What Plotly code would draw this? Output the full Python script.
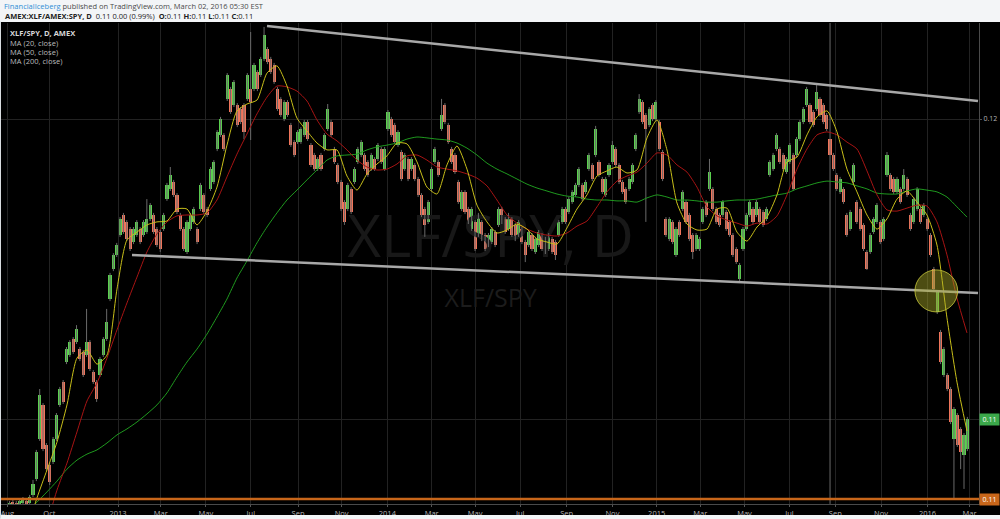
import pandas as pd
import plotly.graph_objects as go

# ---------------- data ----------------
candle_open = [
    0.10710, 0.10723, 0.10720, 0.10713, 0.10720, 0.10727, 0.10720,
    0.10747, 0.10800, 0.10933, 0.11047, 0.10913, 0.10847, 0.10857, 0.10933, 0.11047, 0.11123,
    0.11190, 0.11213, 0.11267, 0.11257, 0.11233, 0.11223, 0.11213, 0.11257, 0.11157, 0.11123,
    0.11147, 0.11213, 0.11267, 0.11400, 0.11500, 0.11547, 0.11613, 0.11680, 0.11657, 0.11633,
    0.11590, 0.11613, 0.11633, 0.11613, 0.11623, 0.11667, 0.11680, 0.11633, 0.11623, 0.11633,
    0.11733, 0.11767, 0.11790, 0.11747, 0.11680, 0.11633, 0.11557, 0.11633, 0.11657, 0.11633,
    0.11700, 0.11747, 0.11700, 0.11767, 0.11790, 0.11900, 0.11947, 0.11947, 0.12067, 0.12100,
    0.12047, 0.12047, 0.12033, 0.12047, 0.12067, 0.12100, 0.12100, 0.12157, 0.12147, 0.12200,
    0.12233, 0.12200, 0.12180, 0.12100, 0.12067, 0.12000, 0.12057, 0.11980, 0.11923, 0.11923,
    0.11923, 0.11947, 0.11990, 0.11913, 0.11880, 0.11833, 0.11880, 0.11900, 0.11967, 0.11990,
    0.11900, 0.11847, 0.11790, 0.11723, 0.11700, 0.11767, 0.11790, 0.11857, 0.11880, 0.11880,
    0.11857, 0.11833, 0.11867, 0.11867, 0.11900, 0.11833, 0.11967, 0.12000,
    0.11980, 0.11913, 0.11890, 0.11833, 0.11867, 0.11833, 0.11847, 0.11800, 0.11747, 0.11700,
    0.11657, 0.11767, 0.11857, 0.11857, 0.11967, 0.12047, 0.11980, 0.11900, 0.11880, 0.11790,
    0.11700, 0.11757, 0.11700, 0.11633, 0.11657, 0.11613, 0.11657, 0.11613, 0.11580, 0.11590,
    0.11623, 0.11647, 0.11700, 0.11667, 0.11633, 0.11667, 0.11647, 0.11613, 0.11633, 0.11590,
    0.11580, 0.11613, 0.11557, 0.11580, 0.11613, 0.11600, 0.11567, 0.11600, 0.11590, 0.11613,
    0.11657, 0.11700, 0.11690, 0.11723, 0.11747, 0.11780,
    0.11780, 0.11757, 0.11833, 0.11847, 0.11880, 0.11857, 0.11800, 0.11747, 0.11813, 0.11857,
    0.11900, 0.11847, 0.11790, 0.11767, 0.11767, 0.11790, 0.11900, 0.12023, 0.12057, 0.12013,
    0.11980, 0.12047, 0.12000, 0.11990, 0.11890, 0.11667, 0.11600, 0.11657, 0.11547, 0.11657,
    0.11700, 0.11723, 0.11680, 0.11613, 0.11567, 0.11567, 0.11657, 0.11723, 0.11767, 0.11767,
    0.11700, 0.11680, 0.11680, 0.11690, 0.11657, 0.11613, 0.11567, 0.11467, 0.11567, 0.11633,
    0.11680, 0.11700, 0.11680, 0.11700, 0.11690, 0.11667, 0.11813, 0.11833, 0.11900,
    0.11900, 0.11880, 0.11823, 0.11857, 0.11880, 0.11880, 0.11933, 0.11990, 0.12047, 0.12047,
    0.12023, 0.12033, 0.12067, 0.12047, 0.12013, 0.11933, 0.11880, 0.11813, 0.11757, 0.11767,
    0.11680, 0.11633, 0.11790, 0.11723, 0.11700, 0.11647, 0.11557, 0.11557, 0.11623, 0.11657,
    0.11657, 0.11600, 0.11813, 0.11813, 0.11800, 0.11757, 0.11767, 0.11767, 0.11800, 0.11680,
    0.11657, 0.11700, 0.11700, 0.11680, 0.11667, 0.11613, 0.11500, 0.11357, 0.11290, 0.11147,
    0.11147, 0.11100, 0.10933, 0.11013, 0.10967, 0.10880, 0.10900,
]
candle_high = [
    0.10727, 0.10730, 0.10727, 0.10733, 0.10740, 0.10733, 0.10747,
    0.10797, 0.10897, 0.11100, 0.11053, 0.10920, 0.10853, 0.10940, 0.11020, 0.11107, 0.11130,
    0.11240, 0.11263, 0.11273, 0.11313, 0.11240, 0.11230, 0.11367, 0.11263, 0.11163, 0.11130,
    0.11207, 0.11273, 0.11367, 0.11487, 0.11553, 0.11587, 0.11673, 0.11687, 0.11663, 0.11640,
    0.11640, 0.11663, 0.11640, 0.11663, 0.11733, 0.11720, 0.11687, 0.11640, 0.11630, 0.11687,
    0.11787, 0.11840, 0.11797, 0.11753, 0.11687, 0.11640, 0.11663, 0.11687, 0.11707, 0.11640,
    0.11787, 0.11753, 0.11707, 0.11840, 0.11863, 0.11963, 0.12007, 0.11953, 0.12153, 0.12107,
    0.12130, 0.12053, 0.12040, 0.12053, 0.12153, 0.12290, 0.12187, 0.12163, 0.12207, 0.12307,
    0.12240, 0.12207, 0.12187, 0.12107, 0.12073, 0.12063, 0.12063, 0.11987, 0.11930, 0.11963,
    0.11973, 0.11997, 0.11997, 0.11920, 0.11887, 0.11873, 0.11887, 0.11953, 0.12050, 0.11997,
    0.11907, 0.11853, 0.11797, 0.11730, 0.11787, 0.11773, 0.11840, 0.11907, 0.11930, 0.11887,
    0.11863, 0.11887, 0.11873, 0.11920, 0.11907, 0.11907, 0.12030, 0.12007,
    0.11987, 0.11963, 0.11897, 0.11887, 0.11873, 0.11873, 0.11853, 0.11807, 0.11753, 0.11707,
    0.11730, 0.11840, 0.11907, 0.11863, 0.12067, 0.12053, 0.11987, 0.11907, 0.11887, 0.11797,
    0.11763, 0.11763, 0.11707, 0.11707, 0.11663, 0.11687, 0.11663, 0.11620, 0.11620, 0.11640,
    0.11630, 0.11707, 0.11707, 0.11673, 0.11687, 0.11673, 0.11653, 0.11663, 0.11640, 0.11597,
    0.11630, 0.11620, 0.11607, 0.11630, 0.11620, 0.11607, 0.11620, 0.11607, 0.11597, 0.11663,
    0.11707, 0.11707, 0.11740, 0.11763, 0.11787, 0.11840,
    0.11787, 0.11797, 0.11887, 0.11853, 0.11977, 0.11863, 0.11807, 0.11807, 0.11853, 0.11927,
    0.11907, 0.11853, 0.11797, 0.11773, 0.11807, 0.11853, 0.11953, 0.12083, 0.12063, 0.12020,
    0.12040, 0.12053, 0.12063, 0.11997, 0.11897, 0.11673, 0.11673, 0.11663, 0.11640, 0.11663,
    0.11763, 0.11730, 0.11687, 0.11620, 0.11620, 0.11607, 0.11707, 0.11730, 0.11867, 0.11773,
    0.11707, 0.11687, 0.11730, 0.11697, 0.11663, 0.11620, 0.11573, 0.11520, 0.11640, 0.11687,
    0.11730, 0.11707, 0.11730, 0.11707, 0.11697, 0.11707, 0.11863, 0.11887, 0.11953,
    0.11907, 0.11887, 0.11873, 0.11920, 0.11887, 0.11940, 0.11997, 0.12040, 0.12107, 0.12053,
    0.12030, 0.12113, 0.12073, 0.12053, 0.12020, 0.12323, 0.11887, 0.11820, 0.11807, 0.11773,
    0.11687, 0.11697, 0.11853, 0.11730, 0.11707, 0.11653, 0.11563, 0.11620, 0.11673, 0.11720,
    0.11663, 0.11673, 0.11890, 0.11820, 0.11807, 0.11807, 0.11773, 0.11833, 0.11807, 0.11687,
    0.11740, 0.11773, 0.11707, 0.11720, 0.11673, 0.11620, 0.11507, 0.11430, 0.11297, 0.11240,
    0.11153, 0.11107, 0.11040, 0.11020, 0.10973, 0.10953, 0.11007,
]
candle_low = [
    0.10703, 0.10707, 0.10700, 0.10707, 0.10713, 0.10707, 0.10713,
    0.10740, 0.10793, 0.10927, 0.10893, 0.10827, 0.10780, 0.10850, 0.10927, 0.11040, 0.11050,
    0.11183, 0.11207, 0.11217, 0.11250, 0.11193, 0.11140, 0.11207, 0.11160, 0.11117, 0.11057,
    0.11140, 0.11207, 0.11260, 0.11393, 0.11493, 0.11540, 0.11607, 0.11617, 0.11593, 0.11560,
    0.11583, 0.11607, 0.11583, 0.11607, 0.11617, 0.11660, 0.11617, 0.11573, 0.11557, 0.11627,
    0.11727, 0.11760, 0.11740, 0.11683, 0.11627, 0.11560, 0.11550, 0.11627, 0.11650, 0.11583,
    0.11693, 0.11683, 0.11673, 0.11760, 0.11783, 0.11893, 0.11940, 0.11893, 0.12060, 0.12017,
    0.12040, 0.11973, 0.11983, 0.11933, 0.12060, 0.11930, 0.12093, 0.12093, 0.12140, 0.12193,
    0.12183, 0.12150, 0.12117, 0.12027, 0.12007, 0.11993, 0.12007, 0.11907, 0.11873, 0.11917,
    0.11917, 0.11940, 0.11927, 0.11840, 0.11827, 0.11827, 0.11827, 0.11893, 0.11960, 0.11940,
    0.11850, 0.11783, 0.11693, 0.11647, 0.11693, 0.11683, 0.11783, 0.11850, 0.11873, 0.11827,
    0.11807, 0.11827, 0.11827, 0.11860, 0.11850, 0.11827, 0.11960, 0.11940,
    0.11917, 0.11907, 0.11793, 0.11827, 0.11793, 0.11827, 0.11793, 0.11740, 0.11673, 0.11607,
    0.11650, 0.11760, 0.11850, 0.11807, 0.11960, 0.11983, 0.11917, 0.11850, 0.11817, 0.11717,
    0.11693, 0.11683, 0.11650, 0.11627, 0.11560, 0.11607, 0.11593, 0.11560, 0.11573, 0.11583,
    0.11573, 0.11640, 0.11650, 0.11617, 0.11627, 0.11607, 0.11593, 0.11607, 0.11583, 0.11523,
    0.11573, 0.11560, 0.11550, 0.11573, 0.11560, 0.11550, 0.11560, 0.11550, 0.11530, 0.11607,
    0.11650, 0.11650, 0.11683, 0.11717, 0.11740, 0.11773,
    0.11727, 0.11750, 0.11827, 0.11793, 0.11873, 0.11807, 0.11750, 0.11740, 0.11807, 0.11850,
    0.11840, 0.11783, 0.11750, 0.11717, 0.11760, 0.11783, 0.11893, 0.12017, 0.11983, 0.11657,
    0.11973, 0.11993, 0.11993, 0.11893, 0.11793, 0.11607, 0.11593, 0.11583, 0.11540, 0.11607,
    0.11693, 0.11650, 0.11593, 0.11533, 0.11560, 0.11560, 0.11650, 0.11673, 0.11760, 0.11693,
    0.11650, 0.11640, 0.11673, 0.11627, 0.11607, 0.11540, 0.11517, 0.11460, 0.11560, 0.11627,
    0.11673, 0.11650, 0.11673, 0.11650, 0.11640, 0.11660, 0.11807, 0.11827, 0.11893,
    0.11850, 0.11827, 0.11817, 0.11850, 0.11760, 0.11873, 0.11927, 0.11983, 0.12040, 0.11983,
    0.11973, 0.12027, 0.12007, 0.11983, 0.11960, 0.10717, 0.11827, 0.11760, 0.11750, 0.11717,
    0.11607, 0.11627, 0.11783, 0.11650, 0.11627, 0.11560, 0.11497, 0.11550, 0.11617, 0.11650,
    0.11583, 0.11593, 0.11807, 0.11760, 0.11750, 0.11750, 0.11717, 0.11760, 0.11740, 0.11627,
    0.11650, 0.11693, 0.11650, 0.11673, 0.11627, 0.11540, 0.11427, 0.11350, 0.11183, 0.11140,
    0.11093, 0.10983, 0.10733, 0.10907, 0.10833, 0.10767, 0.10893,
]
candle_close = [
    0.10720, 0.10713, 0.10707, 0.10727, 0.10730, 0.10713, 0.10740,
    0.10783, 0.10890, 0.11080, 0.10900, 0.10833, 0.10790, 0.10933, 0.11013, 0.11100, 0.11057,
    0.11233, 0.11257, 0.11223, 0.11300, 0.11200, 0.11147, 0.11257, 0.11167, 0.11123, 0.11067,
    0.11200, 0.11267, 0.11323, 0.11480, 0.11547, 0.11580, 0.11667, 0.11623, 0.11600, 0.11567,
    0.11633, 0.11657, 0.11590, 0.11657, 0.11667, 0.11713, 0.11623, 0.11580, 0.11567, 0.11680,
    0.11780, 0.11813, 0.11747, 0.11690, 0.11633, 0.11567, 0.11657, 0.11680, 0.11700, 0.11590,
    0.11780, 0.11690, 0.11680, 0.11833, 0.11857, 0.11957, 0.12000, 0.11900, 0.12147, 0.12023,
    0.12123, 0.11980, 0.11990, 0.11957, 0.12147, 0.12057, 0.12180, 0.12100, 0.12200, 0.12280,
    0.12190, 0.12157, 0.12123, 0.12033, 0.12013, 0.12057, 0.12013, 0.11913, 0.11880, 0.11957,
    0.11967, 0.11990, 0.11933, 0.11847, 0.11833, 0.11867, 0.11833, 0.11947, 0.12033, 0.11947,
    0.11857, 0.11790, 0.11700, 0.11657, 0.11780, 0.11690, 0.11833, 0.11900, 0.11923, 0.11833,
    0.11813, 0.11880, 0.11833, 0.11913, 0.11857, 0.11900, 0.12023, 0.11947,
    0.11923, 0.11957, 0.11800, 0.11880, 0.11800, 0.11867, 0.11800, 0.11747, 0.11680, 0.11647,
    0.11723, 0.11833, 0.11900, 0.11813, 0.12013, 0.11990, 0.11923, 0.11857, 0.11823, 0.11723,
    0.11757, 0.11690, 0.11657, 0.11700, 0.11567, 0.11680, 0.11600, 0.11567, 0.11613, 0.11633,
    0.11580, 0.11700, 0.11657, 0.11623, 0.11680, 0.11613, 0.11600, 0.11657, 0.11590, 0.11547,
    0.11623, 0.11567, 0.11600, 0.11623, 0.11567, 0.11557, 0.11613, 0.11557, 0.11547, 0.11657,
    0.11700, 0.11657, 0.11733, 0.11757, 0.11780, 0.11833,
    0.11733, 0.11790, 0.11880, 0.11800, 0.11967, 0.11813, 0.11757, 0.11800, 0.11847, 0.11913,
    0.11847, 0.11790, 0.11757, 0.11723, 0.11800, 0.11847, 0.11947, 0.12067, 0.11990, 0.11967,
    0.12033, 0.12000, 0.12057, 0.11900, 0.11800, 0.11613, 0.11667, 0.11590, 0.11633, 0.11613,
    0.11757, 0.11657, 0.11600, 0.11557, 0.11613, 0.11600, 0.11700, 0.11680, 0.11823, 0.11700,
    0.11657, 0.11647, 0.11723, 0.11633, 0.11613, 0.11547, 0.11523, 0.11513, 0.11633, 0.11680,
    0.11723, 0.11657, 0.11723, 0.11657, 0.11647, 0.11700, 0.11857, 0.11880, 0.11947,
    0.11857, 0.11833, 0.11867, 0.11913, 0.11767, 0.11933, 0.11990, 0.12033, 0.12100, 0.11990,
    0.11980, 0.12090, 0.12013, 0.11990, 0.11967, 0.11880, 0.11833, 0.11767, 0.11800, 0.11723,
    0.11613, 0.11690, 0.11847, 0.11657, 0.11633, 0.11567, 0.11500, 0.11613, 0.11667, 0.11713,
    0.11590, 0.11667, 0.11880, 0.11767, 0.11757, 0.11800, 0.11723, 0.11813, 0.11747, 0.11633,
    0.11733, 0.11767, 0.11657, 0.11713, 0.11633, 0.11547, 0.11433, 0.11423, 0.11190, 0.11233,
    0.11100, 0.10990, 0.11033, 0.10913, 0.10890, 0.10947, 0.11000,
]
candle_dates = pd.date_range("2012-08-08", "2016-02-27", periods=len(candle_close))

# moving averages as drawn (sampled every ~13.5 days)
ma20 = [
    None, None, 0.10630,
    0.10737, 0.10830, 0.10923, 0.11047, 0.11203, 0.11230, 0.11183, 0.11213, 0.11433, 0.11597,
    0.11623, 0.11647, 0.11657, 0.11660, 0.11700, 0.11700, 0.11647, 0.11693, 0.11773, 0.11913,
    0.12027, 0.12050, 0.12063, 0.12153, 0.12177, 0.12110, 0.12003, 0.11960, 0.11920, 0.11897,
    0.11897, 0.11810, 0.11763, 0.11817, 0.11850, 0.11877, 0.11920, 0.11917, 0.11857, 0.11773,
    0.11750, 0.11847, 0.11910, 0.11833, 0.11713, 0.11657, 0.11620, 0.11630, 0.11650, 0.11633,
    0.11600, 0.11590, 0.11583, 0.11637, 0.11700, 0.11747, 0.11810, 0.11827, 0.11840, 0.11820,
    0.11830, 0.11937, 0.11997, 0.11897, 0.11720, 0.11650, 0.11630, 0.11633, 0.11700, 0.11703,
    0.11623, 0.11593, 0.11640, 0.11673, 0.11747, 0.11857, 0.11873, 0.11947, 0.12007, 0.12027,
    0.11957, 0.11833, 0.11757, 0.11680, 0.11633, 0.11667, 0.11733, 0.11760, 0.11723, 0.11680,
    0.11580, 0.11337, 0.11123, 0.10960,
]
ma50 = [
    None, None, None, None, 0.10650,
    0.10763, 0.10853, 0.10957, 0.11060, 0.11120, 0.11203, 0.11297, 0.11387, 0.11473, 0.11557,
    0.11617, 0.11657, 0.11677, 0.11680, 0.11680, 0.11687, 0.11730, 0.11807, 0.11883, 0.11950,
    0.12017, 0.12073, 0.12110, 0.12107, 0.12093, 0.12060, 0.11997, 0.11950, 0.11927, 0.11897,
    0.11863, 0.11840, 0.11830, 0.11833, 0.11850, 0.11877, 0.11880, 0.11863, 0.11840, 0.11833,
    0.11827, 0.11817, 0.11803, 0.11777, 0.11730, 0.11680, 0.11653, 0.11633, 0.11620, 0.11613,
    0.11610, 0.11620, 0.11643, 0.11660, 0.11707, 0.11757, 0.11793, 0.11810, 0.11823, 0.11853,
    0.11887, 0.11880, 0.11847, 0.11823, 0.11773, 0.11707, 0.11677, 0.11663, 0.11653, 0.11643,
    0.11653, 0.11650, 0.11677, 0.11747, 0.11833, 0.11900, 0.11947, 0.11957, 0.11947, 0.11923,
    0.11900, 0.11827, 0.11747, 0.11697, 0.11693, 0.11703, 0.11713, 0.11710, 0.11657, 0.11547,
    0.11403, 0.11287,
]
ma200 = [
    None, None, 0.10690,
    0.10723, 0.10757, 0.10793, 0.10833, 0.10863, 0.10883, 0.10897, 0.10920, 0.10947, 0.10967,
    0.10990, 0.11017, 0.11047, 0.11087, 0.11140, 0.11190, 0.11233, 0.11283, 0.11340, 0.11400,
    0.11470, 0.11527, 0.11587, 0.11640, 0.11687, 0.11730, 0.11763, 0.11797, 0.11830, 0.11863,
    0.11877, 0.11880, 0.11883, 0.11897, 0.11907, 0.11913, 0.11920, 0.11933, 0.11940, 0.11937,
    0.11933, 0.11930, 0.11920, 0.11903, 0.11880, 0.11853, 0.11833, 0.11817, 0.11800, 0.11783,
    0.11770, 0.11760, 0.11750, 0.11743, 0.11740, 0.11733, 0.11730, 0.11730, 0.11727, 0.11727,
    0.11723, 0.11737, 0.11747, 0.11740, 0.11730, 0.11730, 0.11727, 0.11723, 0.11723, 0.11727,
    0.11730, 0.11730, 0.11733, 0.11740, 0.11747, 0.11753, 0.11767, 0.11777, 0.11787, 0.11793,
    0.11790, 0.11787, 0.11777, 0.11767, 0.11753, 0.11750, 0.11750, 0.11760, 0.11767, 0.11763,
    0.11757, 0.11740, 0.11707, 0.11673,
]
ma_dates = pd.date_range("2012-08-04 12:00", "2016-02-26 12:00", periods=len(ma20))

tick_dates = ["2012-08-05", "2012-10-01", "2013-01-02", "2013-03-01", "2013-05-01", "2013-07-01",
              "2013-09-03", "2013-11-01", "2014-01-02", "2014-03-03", "2014-05-01", "2014-07-01",
              "2014-09-02", "2014-11-03", "2015-01-02", "2015-03-02", "2015-05-01", "2015-07-01",
              "2015-09-01", "2015-11-02", "2016-01-04", "2016-03-01"]
tick_labels = ["Aug", "Oct", "2013", "Mar", "May", "Jul", "Sep", "Nov", "2014", "Mar", "May", "Jul",
               "Sep", "Nov", "2015", "Mar", "May", "Jul", "Sep", "Nov", "2016", "Mar"]

upper_trend_dates = ["2013-07-22 22:00", "2016-03-12 10:00"]
upper_trend_vals = [0.12310, 0.12060]
lower_trend_dates = ["2013-01-20 22:00", "2016-03-12 10:00"]
lower_trend_vals = [0.11547, 0.11420]
highlight_dates = ["2015-12-18", "2016-02-13 21:00"]
highlight_vals = [0.11357, 0.11497]
hline_level = 0.10733

watermark_texts = ["XLF/SPY, D", "XLF/SPY"]
watermark_dates = ["2014-05-22", "2014-05-22"]
watermark_vals = [0.11590, 0.11393]

# ---------------- figure ----------------
UP = "#5ad04e"
DOWN = "#f0755b"
DAY_MS = 86400000

fig = go.Figure()

# background watermark (drawn first so everything sits on top of it)
fig.add_trace(go.Scatter(x=watermark_dates, y=watermark_vals, mode="text", text=watermark_texts,
                         textposition="middle center",
                         textfont=dict(family="Open Sans", size=[58, 25], color=["#181818", "#1c1c1c"]),
                         hoverinfo="skip", showlegend=False))

# wicks
wx, wy = [], []
for d, lo, hi in zip(candle_dates, candle_low, candle_high):
    wx += [d, d, None]
    wy += [lo, hi, None]
fig.add_trace(go.Scatter(x=wx, y=wy, mode="lines", line=dict(color="#6a6a6a", width=1),
                         hoverinfo="skip", showlegend=False))

# bodies
body_base = [min(o, c) for o, c in zip(candle_open, candle_close)]
body_len = [max(abs(c - o), 0.000012) for o, c in zip(candle_open, candle_close)]
body_col = [UP if c >= o else DOWN for o, c in zip(candle_open, candle_close)]
fig.add_trace(go.Bar(x=candle_dates, y=body_len, base=body_base, width=4.2 * DAY_MS,
                     marker=dict(color=body_col, line=dict(width=0)),
                     hoverinfo="skip", showlegend=False))

for vals, col in [(ma200, "#1f9a1f"), (ma50, "#a81414"), (ma20, "#c8bf1a")]:
    fig.add_trace(go.Scatter(x=ma_dates, y=vals, mode="lines",
                             line=dict(color=col, width=1, shape="spline", smoothing=0.6),
                             hoverinfo="skip", showlegend=False, connectgaps=False))

shapes = [
    dict(type="line", xref="x", yref="y", x0=upper_trend_dates[0], x1=upper_trend_dates[1],
         y0=upper_trend_vals[0], y1=upper_trend_vals[1], line=dict(color="#a8a8a8", width=2.5)),
    dict(type="line", xref="x", yref="y", x0=lower_trend_dates[0], x1=lower_trend_dates[1],
         y0=lower_trend_vals[0], y1=lower_trend_vals[1], line=dict(color="#a8a8a8", width=2.5)),
    dict(type="circle", xref="x", yref="y", x0=highlight_dates[0], x1=highlight_dates[1],
         y0=highlight_vals[0], y1=highlight_vals[1], fillcolor="rgba(170,170,40,0.45)",
         line=dict(color="rgba(200,200,60,0.8)", width=1)),
    dict(type="line", xref="paper", yref="y", x0=0, x1=1, y0=hline_level, y1=hline_level,
         line=dict(color="#c8661a", width=2.5)),
    # page header / footer / left border
    dict(type="rect", xref="paper", yref="paper", x0=-0.01, x1=1.03, y0=1.0021, y1=1.08,
         fillcolor="#f3f5f7", line=dict(width=0), layer="below"),
    dict(type="rect", xref="paper", yref="paper", x0=-0.01, x1=1.03, y0=-0.0229, y1=-0.05,
         fillcolor="#f3f5f7", line=dict(width=0), layer="above"),
    dict(type="rect", xref="paper", yref="paper", x0=-0.002, x1=0.0, y0=-0.03, y1=1.003,
         fillcolor="#d8dcdf", line=dict(width=0)),
]

def px_to_paper_y(py):
    return (504 - py) / 481.0

annotations = [
    dict(xref="paper", yref="paper", x=0.001, y=px_to_paper_y(6), xanchor="left", yanchor="middle",
         showarrow=False,
         text='<span style="color:#2f8fd6">FinancialIceberg</span> published on TradingView.com, March 02, 2016 05:30 EST',
         font=dict(family="Open Sans", size=7.5, color="#4a4a4a")),
    dict(xref="paper", yref="paper", x=0.002, y=px_to_paper_y(16), xanchor="left", yanchor="middle",
         showarrow=False,
         text="<b>AMEX:XLF/AMEX:SPY, D</b>  0.11 0.00 (0.99%)  <b>O:</b>0.11 <b>H:</b>0.11 <b>L:</b>0.11 <b>C:</b>0.11",
         font=dict(family="Open Sans", size=7.5, color="#222222")),
    dict(xref="paper", yref="paper", x=0.007, y=px_to_paper_y(33), xanchor="left", yanchor="middle",
         showarrow=False, text="<b>XLF/SPY, D, AMEX</b>",
         font=dict(family="Open Sans", size=7.5, color="#d8d8d8")),
    dict(xref="paper", yref="paper", x=0.007, y=px_to_paper_y(43), xanchor="left", yanchor="middle",
         showarrow=False, text="MA (20, close)", font=dict(family="Open Sans", size=7.5, color="#bbbbbb")),
    dict(xref="paper", yref="paper", x=0.007, y=px_to_paper_y(52), xanchor="left", yanchor="middle",
         showarrow=False, text="MA (50, close)", font=dict(family="Open Sans", size=7.5, color="#bbbbbb")),
    dict(xref="paper", yref="paper", x=0.007, y=px_to_paper_y(61), xanchor="left", yanchor="middle",
         showarrow=False, text="MA (200, close)", font=dict(family="Open Sans", size=7.5, color="#bbbbbb")),
    dict(xref="paper", yref="y", x=1.0, y=candle_close[-1], xanchor="left", yanchor="middle",
         showarrow=False, text="0.11", bgcolor="#3ba84a", width=19, height=11, borderpad=0,
         font=dict(family="Open Sans", size=7, color="#ffffff")),
    dict(xref="paper", yref="y", x=1.0, y=hline_level, xanchor="left", yanchor="middle",
         showarrow=False, text="0.11", bgcolor="#c8661a", width=19, height=11, borderpad=0,
         font=dict(family="Open Sans", size=7, color="#ffffff")),
]

fig.update_layout(
    width=1000, height=519,
    margin=dict(l=1, r=21, t=23, b=15, autoexpand=False),
    paper_bgcolor="#000000", plot_bgcolor="#000000",
    shapes=shapes, annotations=annotations,
    showlegend=False, hovermode=False, bargap=0, dragmode=False,
    modebar=dict(bgcolor="rgba(0,0,0,0)", color="rgba(0,0,0,0)", activecolor="rgba(0,0,0,0)"),
    xaxis=dict(type="date", range=["2012-07-27 10:00", "2016-03-13 19:00"], automargin=False,
               rangeslider=dict(visible=False), ticklabeloverflow="allow",
               tickvals=tick_dates, ticktext=tick_labels,
               tickfont=dict(family="Open Sans", size=7.5, color="#b5b5b5"),
               showgrid=True, gridcolor="#222222", gridwidth=1,
               ticks="outside", ticklen=2, tickcolor="#555555",
               showline=True, linecolor="#4a4a4a", zeroline=False, fixedrange=True),
    yaxis=dict(side="right", range=[0.107167, 0.1232], automargin=False,
               tickvals=[0.11, 0.12], ticktext=["0.11", "0.12"],
               tickfont=dict(family="Open Sans", size=7, color="#b5b5b5"),
               showgrid=True, gridcolor="#222222", gridwidth=1,
               ticks="outside", ticklen=2, tickcolor="#555555",
               showline=True, linecolor="#4a4a4a", zeroline=False, fixedrange=True),
)

# the page's default 8px body margin would shift the fixed-size figure; remove it
fig.write_html("out.html", post_script="document.body.style.margin='0';",
               config={"displayModeBar": False})
